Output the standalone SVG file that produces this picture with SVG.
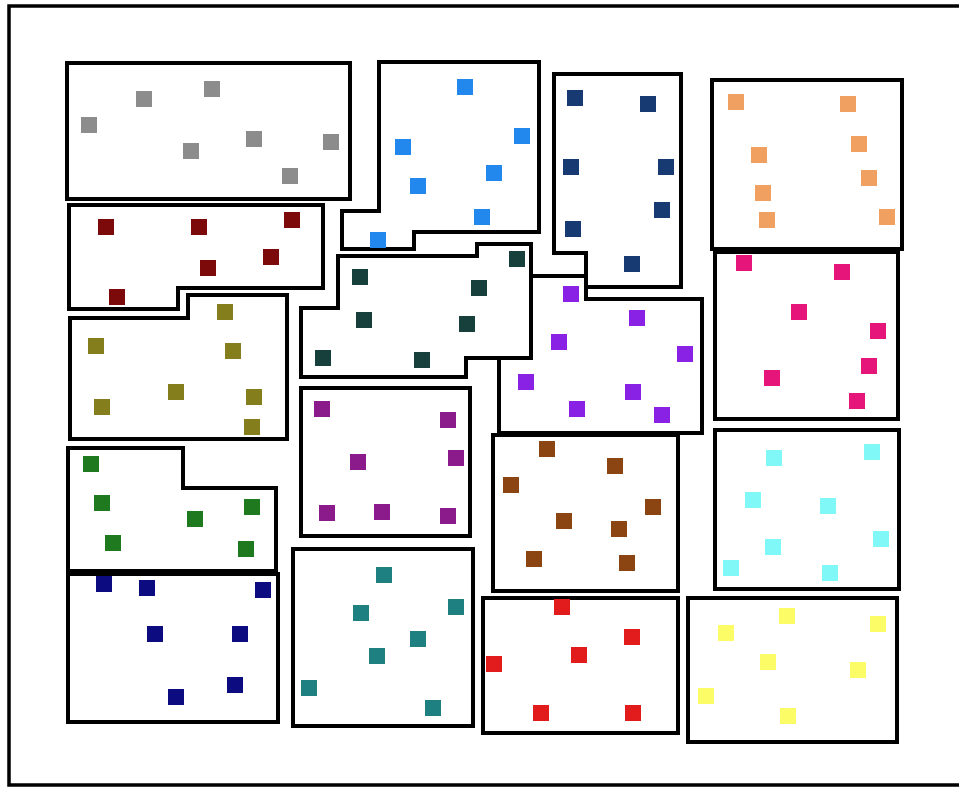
<svg xmlns="http://www.w3.org/2000/svg" width="959" height="788" viewBox="0 0 959 788">
<style>
.frame{fill:none;stroke:#000;stroke-width:3.5}
.reg{fill:#fff;stroke:#000;stroke-width:4;stroke-linejoin:miter}
.gray{fill:#8c8c8c}.dred{fill:#7d0a0a}.olive{fill:#857e1c}.green{fill:#1f7a1f}.navy{fill:#0c0c80}
.blue{fill:#2288ee}.dblue{fill:#183a72}.dgreen{fill:#173f3b}.violet{fill:#8a22e6}.mag{fill:#8b1a8b}
.brown{fill:#8b4513}.teal{fill:#1e8080}.red{fill:#e21c1c}.orange{fill:#f0a060}.pink{fill:#e5157a}
.cyan{fill:#80f8f8}.yellow{fill:#fcfc66}
</style>
<rect x="0" y="0" width="959" height="788" fill="#fff"/>
<rect class="frame" x="9" y="6" width="960" height="779"/>

<g id="region-gray">
<polygon class="reg" points="67,63 350,63 350,199 67,199"/>
<g class="gray">
<rect x="81" y="117" width="16" height="16"/><rect x="136" y="91" width="16" height="16"/><rect x="204" y="81" width="16" height="16"/>
<rect x="183" y="143" width="16" height="16"/><rect x="246" y="131" width="16" height="16"/><rect x="282" y="168" width="16" height="16"/>
<rect x="323" y="134" width="16" height="16"/>
</g></g>

<g id="region-darkred">
<polygon class="reg" points="69,205 323,205 323,288 178,288 178,309 69,309"/>
<g class="dred">
<rect x="98" y="219" width="16" height="16"/><rect x="191" y="219" width="16" height="16"/><rect x="284" y="212" width="16" height="16"/>
<rect x="263" y="249" width="16" height="16"/><rect x="200" y="260" width="16" height="16"/><rect x="109" y="289" width="16" height="16"/>
</g></g>

<g id="region-olive">
<polygon class="reg" points="70,318 188,318 188,295 287,295 287,439 70,439"/>
<g class="olive">
<rect x="217" y="304" width="16" height="16"/><rect x="88" y="338" width="16" height="16"/><rect x="225" y="343" width="16" height="16"/>
<rect x="168" y="384" width="16" height="16"/><rect x="94" y="399" width="16" height="16"/><rect x="246" y="389" width="16" height="16"/>
<rect x="244" y="419" width="16" height="16"/>
</g></g>

<g id="region-green">
<polygon class="reg" points="68,448 183,448 183,488 276,488 276,571 68,571"/>
<g class="green">
<rect x="83" y="456" width="16" height="16"/><rect x="94" y="495" width="16" height="16"/><rect x="244" y="499" width="16" height="16"/>
<rect x="187" y="511" width="16" height="16"/><rect x="105" y="535" width="16" height="16"/><rect x="238" y="541" width="16" height="16"/>
</g></g>

<g id="region-navy">
<polygon class="reg" points="68,574 278,574 278,722 68,722"/>
<g class="navy">
<rect x="96" y="576" width="16" height="16"/><rect x="139" y="580" width="16" height="16"/><rect x="255" y="582" width="16" height="16"/>
<rect x="147" y="626" width="16" height="16"/><rect x="232" y="626" width="16" height="16"/><rect x="227" y="677" width="16" height="16"/>
<rect x="168" y="689" width="16" height="16"/>
</g></g>

<g id="region-blue">
<polygon class="reg" points="379,62 539,62 539,232 414,232 414,249 342,249 342,211 379,211"/>
<g class="blue">
<rect x="457" y="79" width="16" height="16"/><rect x="514" y="128" width="16" height="16"/><rect x="395" y="139" width="16" height="16"/>
<rect x="486" y="165" width="16" height="16"/><rect x="410" y="178" width="16" height="16"/><rect x="474" y="209" width="16" height="16"/>
<rect x="370" y="232" width="16" height="16"/>
</g></g>

<g id="region-darkblue">
<polygon class="reg" points="554,74 681,74 681,287 586,287 586,253 554,253"/>
<g class="dblue">
<rect x="567" y="90" width="16" height="16"/><rect x="640" y="96" width="16" height="16"/><rect x="563" y="159" width="16" height="16"/>
<rect x="658" y="159" width="16" height="16"/><rect x="654" y="202" width="16" height="16"/><rect x="565" y="221" width="16" height="16"/>
<rect x="624" y="256" width="16" height="16"/>
</g></g>

<g id="region-darkgreen">
<polygon class="reg" points="338,256 477,256 477,244 531,244 531,358 466,358 466,377 301,377 301,308 338,308"/>
<g class="dgreen">
<rect x="509" y="251" width="16" height="16"/><rect x="352" y="269" width="16" height="16"/><rect x="471" y="280" width="16" height="16"/>
<rect x="356" y="312" width="16" height="16"/><rect x="459" y="316" width="16" height="16"/><rect x="315" y="350" width="16" height="16"/>
<rect x="414" y="352" width="16" height="16"/>
</g></g>

<g id="region-violet">
<polygon class="reg" points="531,276 586,276 586,299 702,299 702,433 499,433 499,358 531,358"/>
<g class="violet">
<rect x="563" y="286" width="16" height="16"/><rect x="629" y="310" width="16" height="16"/><rect x="551" y="334" width="16" height="16"/>
<rect x="677" y="346" width="16" height="16"/><rect x="518" y="374" width="16" height="16"/><rect x="625" y="384" width="16" height="16"/>
<rect x="569" y="401" width="16" height="16"/><rect x="654" y="407" width="16" height="16"/>
</g></g>

<g id="region-orange">
<polygon class="reg" points="712,80 902,80 902,249 712,249"/>
<g class="orange">
<rect x="728" y="94" width="16" height="16"/><rect x="840" y="96" width="16" height="16"/><rect x="851" y="136" width="16" height="16"/>
<rect x="751" y="147" width="16" height="16"/><rect x="861" y="170" width="16" height="16"/><rect x="755" y="185" width="16" height="16"/>
<rect x="759" y="212" width="16" height="16"/><rect x="879" y="209" width="16" height="16"/>
</g></g>

<g id="region-pink">
<polygon class="reg" points="715,252 898,252 898,419 715,419"/>
<g class="pink">
<rect x="736" y="255" width="16" height="16"/><rect x="834" y="264" width="16" height="16"/><rect x="791" y="304" width="16" height="16"/>
<rect x="870" y="323" width="16" height="16"/><rect x="861" y="358" width="16" height="16"/><rect x="764" y="370" width="16" height="16"/>
<rect x="849" y="393" width="16" height="16"/>
</g></g>

<g id="region-cyan">
<polygon class="reg" points="715,430 899,430 899,589 715,589"/>
<g class="cyan">
<rect x="766" y="450" width="16" height="16"/><rect x="864" y="444" width="16" height="16"/><rect x="745" y="492" width="16" height="16"/>
<rect x="820" y="498" width="16" height="16"/><rect x="765" y="539" width="16" height="16"/><rect x="873" y="531" width="16" height="16"/>
<rect x="723" y="560" width="16" height="16"/><rect x="822" y="565" width="16" height="16"/>
</g></g>

<g id="region-yellow">
<polygon class="reg" points="688,598 897,598 897,742 688,742"/>
<g class="yellow">
<rect x="718" y="625" width="16" height="16"/><rect x="779" y="608" width="16" height="16"/><rect x="870" y="616" width="16" height="16"/>
<rect x="760" y="654" width="16" height="16"/><rect x="850" y="662" width="16" height="16"/><rect x="698" y="688" width="16" height="16"/>
<rect x="780" y="708" width="16" height="16"/>
</g></g>

<g id="region-magenta">
<polygon class="reg" points="301,388 470,388 470,536 301,536"/>
<g class="mag">
<rect x="314" y="401" width="16" height="16"/><rect x="440" y="412" width="16" height="16"/><rect x="350" y="454" width="16" height="16"/>
<rect x="448" y="450" width="16" height="16"/><rect x="319" y="505" width="16" height="16"/><rect x="374" y="504" width="16" height="16"/>
<rect x="440" y="508" width="16" height="16"/>
</g></g>

<g id="region-brown">
<polygon class="reg" points="493,435 678,435 678,591 493,591"/>
<g class="brown">
<rect x="539" y="441" width="16" height="16"/><rect x="607" y="458" width="16" height="16"/><rect x="503" y="477" width="16" height="16"/>
<rect x="645" y="499" width="16" height="16"/><rect x="556" y="513" width="16" height="16"/><rect x="611" y="521" width="16" height="16"/>
<rect x="526" y="551" width="16" height="16"/><rect x="619" y="555" width="16" height="16"/>
</g></g>

<g id="region-teal">
<polygon class="reg" points="293,549 473,549 473,726 293,726"/>
<g class="teal">
<rect x="376" y="567" width="16" height="16"/><rect x="448" y="599" width="16" height="16"/><rect x="353" y="605" width="16" height="16"/>
<rect x="410" y="631" width="16" height="16"/><rect x="369" y="648" width="16" height="16"/><rect x="425" y="700" width="16" height="16"/>
<rect x="301" y="680" width="16" height="16"/>
</g></g>

<g id="region-red">
<polygon class="reg" points="483,598 678,598 678,733 483,733"/>
<g class="red">
<rect x="554" y="599" width="16" height="16"/><rect x="624" y="629" width="16" height="16"/><rect x="571" y="647" width="16" height="16"/>
<rect x="486" y="656" width="16" height="16"/><rect x="533" y="705" width="16" height="16"/><rect x="625" y="705" width="16" height="16"/>
</g></g>
</svg>
